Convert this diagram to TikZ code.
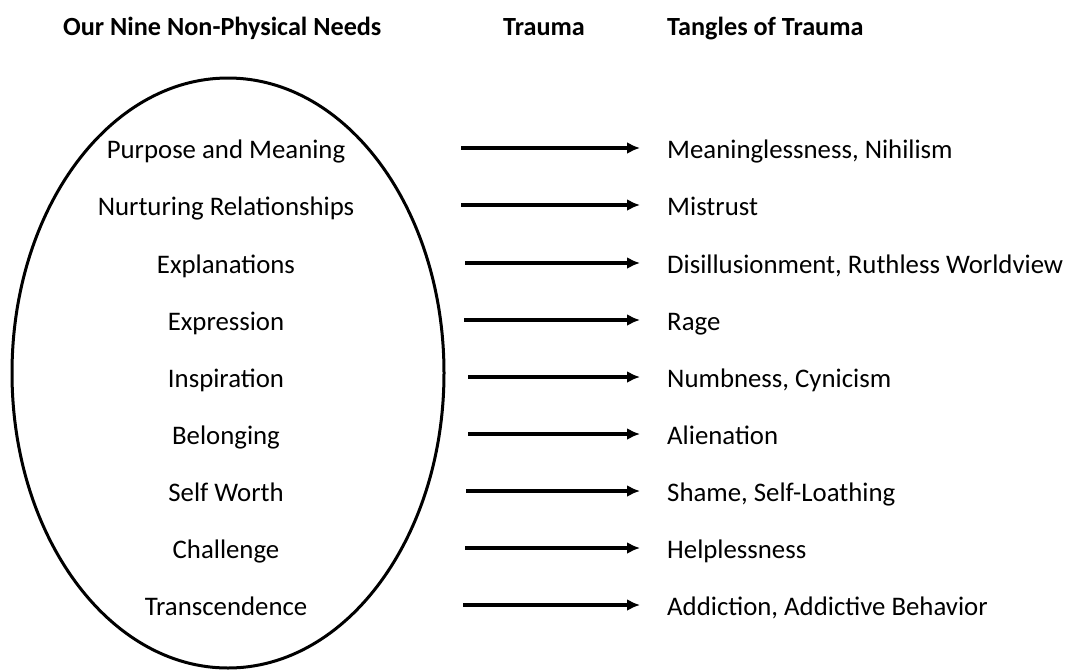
\documentclass[tikz,border=0pt]{standalone}
\usepackage{fontspec}
\setmainfont{Carlito}
\usetikzlibrary{arrows.meta,shapes.geometric}
\begin{document}
\begin{tikzpicture}[x=1pt,y=-1pt,
  need/.style={font=\fontsize{26.8}{30}\selectfont, anchor=base, inner sep=0pt},
  tangle/.style={font=\fontsize{26.8}{30}\selectfont, anchor=base west, inner sep=0pt},
  head/.style={font=\bfseries\fontsize{26.2}{30}\selectfont, inner sep=0pt, anchor=base west},
  arr/.style={line width=3.4pt, -{Latex[length=13pt,width=12pt]}}]
\useasboundingbox (0,0) rectangle (1068,670);
\node[draw, line width=3pt, ellipse, minimum width=432pt, minimum height=590pt, inner sep=0pt] (ell) at (228,373) {};
\node[head] (h1) at (63,35) {Our Nine Non-Physical Needs};
\node[head] (h2) at (503,35) {Trauma};
\node[head] (h3) at (667,35) {Tangles of Trauma};
\foreach \i/\y/\xs/\need/\tang in {
 1/150/461/Purpose and Meaning/{Meaninglessness, Nihilism},
 2/207/461/Nurturing Relationships/Mistrust,
 3/265/465/Explanations/{Disillusionment, Ruthless Worldview},
 4/322/464/Expression/Rage,
 5/379/468/Inspiration/{Numbness, Cynicism},
 6/436/468/Belonging/Alienation,
 7/493/466/Self Worth/{Shame, Self-Loathing},
 8/550/465/Challenge/Helplessness,
 9/607/463/Transcendence/{Addiction, Addictive Behavior}} {
  \node[need] (n\i) at (226,\y+8) {\need};
  \node[tangle] (t\i) at (667,\y+8) {\tang};
  \coordinate (s\i) at (\xs,\y-2);
  \coordinate (e\i) at (640,\y-2);
  \draw[arr] (s\i) -- (e\i);
}
\end{tikzpicture}
\end{document}
